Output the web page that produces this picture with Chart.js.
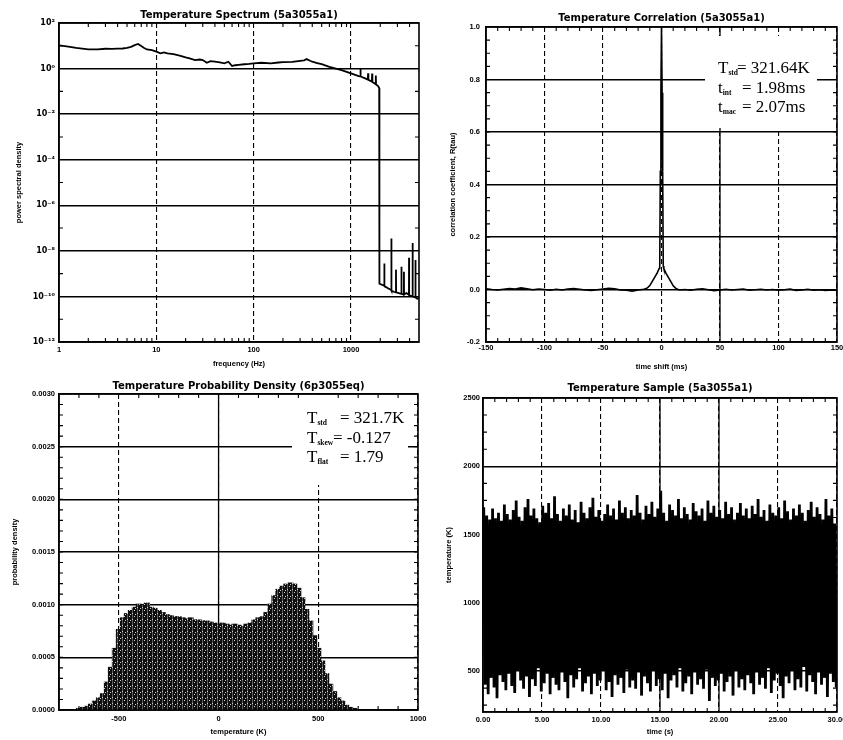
<!DOCTYPE html>
<html><head><meta charset="utf-8">
<script src="https://cdn.jsdelivr.net/npm/chart.js@4"></script>
<style>
html,body{margin:0;padding:0;background:#fff;}
#wrap{position:relative;width:843px;height:740px;overflow:hidden;background:#fff;}
canvas{position:absolute;left:0;top:0;}
</style></head><body>
<div id="wrap">
<canvas id="cA" width="843" height="740"></canvas>
<canvas id="cB" width="843" height="740"></canvas>
<canvas id="cC" width="843" height="740"></canvas>
<canvas id="cD" width="843" height="740"></canvas>
</div>
<script>
// ---------- DATA ----------
// Temperature spectrum (frequency in Hz, power spectral density)
const specFreq = [1,1.2,1.5,2,2.5,3,3.5,4,4.5,5,5.5,6,6.5,7,7.5,8,9,10,11,12,13,15,17,20,22,25,28,30,33,36,40,45,50,55,60,65,70,80,90,100,120,150,180,200,250,300,330,350,380,400,450,500,600,700,800,1000,1200,1240,1250,1260,1400,1490,1500,1510,1640,1650,1660,1790,1800,1810,1900,1950,1960,2100,2190,2200,2210,2400,2590,2600,2610,2750,2890,2900,2910,3100,3290,3300,3310,3490,3500,3510,3700,3940,3950,3960,4290,4300,4310,4590,4600,4610,4800,5000];
const specPSD = [10.5,9.5,8.1,6.9,7.0,7.4,7.3,7.5,7.6,8.1,9.0,10.7,12.0,9.7,8.0,6.9,6.5,5.5,4.7,5.1,4.6,4.3,3.8,3.1,2.8,2.35,2.5,2.35,1.8,2.1,2.0,1.85,1.7,2.0,1.3,1.4,1.45,1.55,1.6,1.7,1.8,1.7,1.85,1.9,1.95,2.2,2.3,2.6,2.2,2.0,1.75,1.55,1.2,1.0,0.85,0.61,0.47,0.46,1.0,0.45,0.37,0.33,0.62,0.32,0.27,0.6,0.26,0.21,0.5,0.2,0.17,0.14,3.6e-10,3.2e-10,3.0e-10,2.8e-9,2.9e-10,2.3e-10,1.9e-10,3.5e-8,1.8e-10,1.6e-10,1.5e-10,1.5e-9,1.5e-10,1.4e-10,1.3e-10,2.0e-9,1.3e-10,1.2e-10,1.2e-9,1.2e-10,1.4e-10,1.2e-10,5e-9,1.1e-10,1.0e-10,2.2e-8,1.0e-10,9e-11,4e-9,9e-11,8e-11,8.5e-11];
const specYTicks = [1e-12,1e-10,1e-8,1e-6,1e-4,1e-2,1,100];
const specXTicks = [1,10,100,1000];

// Temperature correlation (time shift in ms, correlation coefficient)
const corrLag = [-150,-145,-140,-135,-130,-125,-120,-115,-110,-105,-100,-95,-90,-85,-80,-75,-70,-65,-60,-55,-50,-45,-40,-35,-30,-25,-20,-15,-12,-10,-8,-6,-4,-3,-2,-1.5,-1,-0.5,0,0.5,1,1.5,2,3,4,6,8,10,12,15,20,25,30,35,40,45,50,55,60,65,70,75,80,85,90,95,100,105,110,115,120,125,130,135,140,145,150];
const corrR = [0.003,0.000,-0.002,0.001,0.004,0.002,0.006,0.003,-0.001,0.002,0.000,-0.003,0.001,-0.002,0.002,0.004,0.001,-0.002,-0.004,-0.001,0.002,0.005,0.003,-0.002,-0.003,-0.006,-0.002,0.001,0.006,0.015,0.030,0.045,0.060,0.070,0.080,0.090,0.45,0.75,1.0,0.75,0.45,0.090,0.080,0.070,0.060,0.045,0.030,0.014,0.005,-0.002,0.000,-0.003,0.001,0.003,-0.001,-0.005,-0.002,0.001,-0.002,0.000,0.002,-0.003,-0.001,0.001,-0.002,0.000,-0.003,-0.001,0.002,-0.004,-0.002,0.001,-0.003,-0.001,-0.004,-0.002,-0.003];

// Temperature probability density (temperature in K, density)
const pdfTemp = [-700,-680,-660,-640,-620,-600,-580,-560,-540,-520,-500,-480,-460,-440,-420,-400,-380,-360,-340,-320,-300,-280,-260,-240,-220,-200,-180,-160,-140,-120,-100,-80,-60,-40,-20,0,20,40,60,80,100,120,140,160,180,200,220,240,260,280,300,320,340,360,380,400,420,440,460,480,500,520,540,560,580,600,620,640,660,680,700];
const pdfDens = [0.00001,0.00002,0.00003,0.00005,0.00008,0.00011,0.00015,0.00026,0.00040,0.00058,0.00076,0.00087,0.00091,0.00094,0.00097,0.00100,0.00099,0.00101,0.00097,0.00096,0.00094,0.00092,0.00090,0.00089,0.00088,0.00088,0.00087,0.00086,0.00087,0.00085,0.00085,0.00084,0.00084,0.00083,0.00082,0.00081,0.00082,0.00081,0.00080,0.00081,0.00080,0.00079,0.00081,0.00082,0.00085,0.00087,0.00088,0.00092,0.00100,0.00108,0.00114,0.00117,0.00119,0.00120,0.00119,0.00115,0.00106,0.00095,0.00084,0.00070,0.00058,0.00046,0.00034,0.00024,0.00017,0.00011,0.00008,0.00004,0.00002,0.00001,0];
const pdfXTicks = [-500,0,500,1000];

// Temperature sample (time in s; local maxima / minima of the signal in K)
const sampleTime = Array.from({length:120},(_,i)=>i*0.25);
const sampleHigh = [1700,1640,1610,1690,1620,1660,1600,1720,1650,1610,
1680,1750,1630,1600,1700,1760,1640,1690,1620,1590,
1710,1660,1730,1620,1780,1650,1600,1690,1640,1720,
1610,1680,1590,1740,1660,1620,1700,1770,1630,1680,
1600,1650,1720,1640,1690,1610,1750,1660,1700,1620,
1680,1640,1790,1660,1610,1710,1650,1740,1630,1690,
1820,1660,1600,1720,1680,1640,1760,1620,1700,1650,
1610,1730,1670,1640,1690,1600,1750,1660,1710,1630,
1680,1620,1740,1650,1700,1610,1660,1730,1640,1690,
1620,1710,1650,1760,1630,1680,1600,1720,1660,1640,
1700,1620,1750,1670,1610,1690,1640,1720,1660,1600,
1680,1740,1630,1700,1650,1610,1760,1640,1690,1580];
const sampleLow = [400,330,450,380,300,470,420,360,480,390,
340,500,430,370,460,310,440,390,520,350,
410,480,330,450,400,360,490,420,300,470,
380,440,520,350,410,460,330,480,390,430,
500,360,420,310,470,400,450,340,510,380,
430,370,490,320,460,410,350,500,390,440,
360,480,300,430,470,380,520,350,410,460,
330,490,400,440,370,510,280,450,390,430,
480,350,420,460,320,500,380,440,360,470,
410,330,490,400,450,370,520,340,430,480,
390,300,460,410,500,360,440,380,530,350,
470,420,330,490,400,450,310,480,420,380];
const sampleYTicks = [500,1000,1500,2000,2500];

// ---------- HELPERS ----------
const TICK_FONT = {family:'"Liberation Sans", Arial, sans-serif', size:7.5, weight:'bold'};
const LOG_TICK_FONT = {family:'"DejaVu Sans", sans-serif', size:8, weight:'bold'};
const AX_FONT = {family:'"Liberation Sans", Arial, sans-serif', size:7.5, weight:'bold'};
const TITLE_FONT = {family:'"DejaVu Sans", sans-serif', size:10, weight:'bold'};
const SUP = {'-':'\u207B','0':'\u2070','1':'\u00B9','2':'\u00B2','3':'\u00B3','4':'\u2074','5':'\u2075','6':'\u2076','7':'\u2077','8':'\u2078','9':'\u2079'};
const sup = s => String(s).split('').map(c=>SUP[c]||c).join('');

function range(a,b,step){const r=[];for(let v=a;v<=b+1e-12;v+=step)r.push(+v.toFixed(6));return r;}

const DECO = {};
const decoPlugin = {
  id:'deco',
  beforeDatasetsDraw(chart){
    const d = DECO[chart.canvas.id]; if(!d) return;
    const {ctx, chartArea:a} = chart; const xs = chart.scales.x;
    ctx.save(); ctx.strokeStyle='#000'; ctx.lineWidth=1.3;
    (d.solidX||[]).forEach(v=>{const p=xs.getPixelForValue(v);ctx.beginPath();ctx.moveTo(p,a.top);ctx.lineTo(p,a.bottom);ctx.stroke();});
    ctx.restore();
  },
  afterDatasetsDraw(chart){
    const d = DECO[chart.canvas.id]; if(!d) return;
    const {ctx, chartArea:a} = chart; const xs = chart.scales.x, ys = chart.scales.y;
    ctx.save();
    if(d.box){ctx.fillStyle='#fff';ctx.fillRect(a.left+d.box[0],a.top+d.box[1],d.box[2],d.box[3]);}
    ctx.fillStyle='#000'; ctx.textBaseline='alphabetic'; ctx.textAlign='left';
    (d.labels||[]).forEach(l=>{
      ctx.font='17px "Liberation Serif", serif';
      ctx.fillText(l.main,a.left+l.x,a.top+l.y);
      const w=ctx.measureText(l.main).width;
      ctx.font='bold 7.5px "Liberation Serif", serif';
      ctx.fillText(l.sub,a.left+l.x+w,a.top+l.y+2);
      ctx.font='17px "Liberation Serif", serif';
      ctx.fillText(l.rest,a.left+l.eqX,a.top+l.y);
    });
    ctx.strokeStyle='#000';
    ctx.lineWidth=1.6;
    ctx.strokeRect(a.left,a.top,a.right-a.left,a.bottom-a.top);
    ctx.lineWidth=1.1;
    const L=4;
    (d.minorX||[]).forEach(v=>{const p=xs.getPixelForValue(v);if(p<a.left+1||p>a.right-1)return;
      ctx.beginPath();ctx.moveTo(p,a.bottom);ctx.lineTo(p,a.bottom-L);ctx.moveTo(p,a.top);ctx.lineTo(p,a.top+L);ctx.stroke();});
    (d.minorY||[]).forEach(v=>{const p=ys.getPixelForValue(v);if(p<a.top+1||p>a.bottom-1)return;
      ctx.beginPath();ctx.moveTo(a.left,p);ctx.lineTo(a.left+L,p);ctx.moveTo(a.right,p);ctx.lineTo(a.right-L,p);ctx.stroke();});
    ctx.restore();
  }
};

function xAxis(o){
  return Object.assign({
    offset:false,
    grid:{color:'#000',lineWidth:1.1,drawTicks:false,offset:false},
    border:{display:true,color:'#000',width:1.5,dash:[5,3]},
    ticks:{font:TICK_FONT,color:'#000',maxRotation:0,autoSkip:false,padding:o.pad},
    title:{display:true,text:o.title,font:AX_FONT,color:'#000',padding:0},
    afterFit:s=>{s.height=o.h;s.paddingLeft=0;s.paddingRight=0;}
  },o.extra);
}
function yAxis(o){
  return Object.assign({
    grid:{color:'#000',lineWidth:1.5,drawTicks:false},
    border:{display:true,color:'#000',width:1.5},
    ticks:{font:TICK_FONT,color:'#000',autoSkip:false,padding:o.pad},
    title:{display:true,text:o.title,font:AX_FONT,color:'#000',padding:0},
    afterFit:s=>{s.width=o.w;s.paddingTop=0;s.paddingBottom=0;}
  },o.extra);
}
function baseOpts(pad,title,tpad){
  return {
    responsive:false, animation:false, events:[], devicePixelRatio:1,
    layout:{padding:pad},
    plugins:{legend:{display:false},tooltip:{enabled:false},
      title:{display:true,text:title,font:TITLE_FONT,color:'#000',fullSize:false,padding:tpad}}
  };
}
function withTicks(list){return s=>{s.ticks=list.map(v=>({value:v}));};}

// ---------- A: spectrum ----------
(function(){
  const mx=[];for(let d=0;d<4;d++)for(let m=2;m<=9;m++){const v=m*Math.pow(10,d);if(v<5000)mx.push(v);}
  const my=[];for(let e=-11;e<=1;e+=2)my.push(Math.pow(10,e));
  DECO.cA={minorX:mx,minorY:my};
  const o=baseOpts({left:14.5,right:424,top:9,bottom:371.5},'Temperature Spectrum (5a3055a1)',{top:0,bottom:2});
  o.scales={
    x:xAxis({pad:3,h:26.5,title:'frequency (Hz)',extra:{type:'logarithmic',min:1,max:5000,afterBuildTicks:withTicks(specXTicks)}}),
    y:yAxis({pad:4,w:44.5,title:'power spectral density',extra:{type:'logarithmic',min:1e-12,max:100,afterBuildTicks:withTicks(specYTicks)}})
  };
  o.scales.x.ticks.callback=v=>String(v);
  o.scales.y.ticks.font=LOG_TICK_FONT;
  o.scales.y.ticks.callback=v=>'10'+sup(Math.round(Math.log10(v)));
  new Chart(document.getElementById('cA'),{type:'line',
    data:{datasets:[{data:specFreq.map((f,i)=>({x:f,y:specPSD[i]})),borderColor:'#000',borderWidth:1.8,pointRadius:0,tension:0}]},
    options:o,plugins:[decoPlugin]});
})();

// ---------- B: correlation ----------
(function(){
  DECO.cB={minorX:range(-150,150,10).filter(v=>v%50!==0),minorY:range(-0.2,1.0,0.05),solidX:[50],
    box:[219,9,112,92],
    labels:[{x:232,y:46,main:'T',sub:'std',eqX:251,rest:'= 321.64K'},
            {x:232,y:66,main:'t',sub:'int',eqX:256,rest:'= 1.98ms'},
            {x:232,y:85,main:'t',sub:'mac',eqX:256,rest:'= 2.07ms'}]};
  const o=baseOpts({left:448.5,right:6,top:12,bottom:368.5},'Temperature Correlation (5a3055a1)',{top:0,bottom:3});
  o.scales={
    x:xAxis({pad:1,h:29.5,title:'time shift (ms)',extra:{type:'linear',min:-150,max:150}}),
    y:yAxis({pad:6,w:37.5,title:'correlation coefficient, R(tau)',extra:{type:'linear',min:-0.2,max:1.0}})
  };
  o.scales.x.ticks.stepSize=50; o.scales.x.ticks.callback=v=>String(Math.round(v));
  o.scales.y.ticks.stepSize=0.2; o.scales.y.ticks.callback=v=>(Math.abs(v)<1e-9?0:v).toFixed(1);
  new Chart(document.getElementById('cB'),{type:'line',
    data:{datasets:[{data:corrLag.map((t,i)=>({x:t,y:corrR[i]})),borderColor:'#000',borderWidth:1.6,pointRadius:0,tension:0}]},
    options:o,plugins:[decoPlugin]});
})();

// ---------- C: probability density ----------
(function(){
  DECO.cC={minorX:range(-700,900,100).filter(v=>v%500!==0),minorY:range(0,0.003,0.0001),solidX:[0],
    box:[233,1,116,90],
    labels:[{x:248,y:29,main:'T',sub:'std',eqX:281,rest:'= 321.7K'},
            {x:248,y:49,main:'T',sub:'skew',eqX:274,rest:'= -0.127'},
            {x:248,y:68,main:'T',sub:'flat',eqX:281,rest:'= 1.79'}]};
  const pc=document.createElement('canvas');pc.width=5;pc.height=6;
  const g=pc.getContext('2d');
  g.fillStyle='#0e0e0e';g.fillRect(0,0,5,6);
  g.fillStyle='#5a5a5a';g.fillRect(2,0,1,6);
  g.fillStyle='#cfcfcf';g.fillRect(2,1,1,1);g.fillRect(4,4,1,1);g.fillRect(0,2,1,1);
  const pattern=g.createPattern(pc,'repeat');
  const o=baseOpts({left:10.5,right:425,top:380,bottom:3.5},'Temperature Probability Density (6p3055eq)',{top:0,bottom:2});
  o.scales={
    x:xAxis({pad:4,h:26.5,title:'temperature (K)',extra:{type:'linear',min:-800,max:1000,afterBuildTicks:withTicks(pdfXTicks)}}),
    y:yAxis({pad:4,w:48.5,title:'probability density',extra:{type:'linear',min:0,max:0.003}})
  };
  o.scales.x.ticks.callback=v=>String(v);
  o.scales.y.ticks.stepSize=0.0005; o.scales.y.ticks.callback=v=>v.toFixed(4);
  new Chart(document.getElementById('cC'),{type:'bar',
    data:{datasets:[{data:pdfTemp.map((t,i)=>({x:t,y:pdfDens[i]})),backgroundColor:pattern,borderWidth:0,barPercentage:1,categoryPercentage:1,inflateAmount:1}]},
    options:o,plugins:[decoPlugin]});
})();

// ---------- D: time sample ----------
(function(){
  DECO.cD={minorX:range(0,30,1).filter(v=>v%5!==0),minorY:range(250,2500,125).filter(v=>v%500!==0),solidX:[15,20]};
  const pts=[];
  sampleTime.forEach((t,i)=>{pts.push({x:t+0.0625,y:sampleHigh[i]});pts.push({x:t+0.1875,y:sampleLow[i]});});
  const o=baseOpts({left:444.5,right:6,top:382,bottom:3.5},'Temperature Sample (5a3055a1)',{top:0,bottom:4});
  o.scales={
    x:xAxis({pad:3,h:24.5,title:'time (s)',extra:{type:'linear',min:0,max:30}}),
    y:yAxis({pad:3,w:38.5,title:'temperature (K)',extra:{type:'linear',min:200,max:2500,afterBuildTicks:withTicks(sampleYTicks)}})
  };
  o.scales.x.ticks.stepSize=5; o.scales.x.ticks.callback=v=>v.toFixed(2);
  o.scales.y.ticks.callback=v=>String(v);
  new Chart(document.getElementById('cD'),{type:'line',
    data:{datasets:[{data:pts,borderColor:'#000',borderWidth:2.8,pointRadius:0,tension:0,borderJoinStyle:'miter'}]},
    options:o,plugins:[decoPlugin]});
})();
</script>
</body></html>
